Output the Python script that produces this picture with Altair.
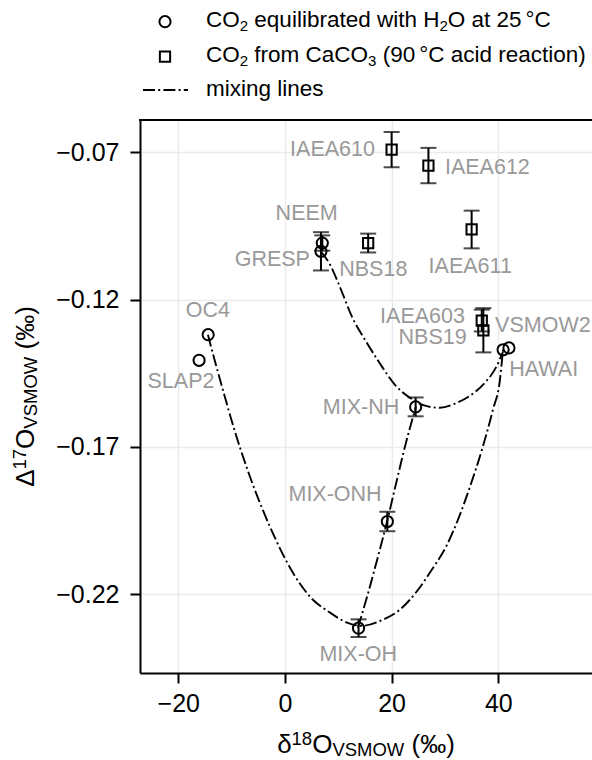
import altair as alt
import pandas as pd

# ---------------- data ----------------
circ_names = ["OC4", "SLAP2", "NEEM", "GRESP", "MIX-NH", "MIX-ONH", "MIX-OH", "HAWAI", "VSMOW2"]
circ_d18 = [-14.4, -16.1, 7.0, 6.75, 24.5, 19.2, 13.8, 40.9, 42.0]
circ_D17 = [-0.1319, -0.1406, -0.1008, -0.1036, -0.1564, -0.1953, -0.2315, -0.1370, -0.1364]
circ_err = [0.0, 0.0, 0.0026, 0.0065, 0.0032, 0.0033, 0.0030, 0.0, 0.0]

sq_names = ["IAEA610", "IAEA612", "IAEA611", "NBS18", "IAEA603", "NBS19"]
sq_d18 = [20.0, 26.9, 35.0, 15.6, 36.9, 37.2]
sq_D17 = [-0.0691, -0.0745, -0.0962, -0.1008, -0.1271, -0.1304]
sq_err = [0.0060, 0.0060, 0.0064, 0.0032, 0.0037, 0.0075]

# mixing lines
mix1_x = [-14.44, -14.06, -11.81, -9.38, -6.56, -2.81, 1.50, 4.69, 8.44, 11.63, 14.44,
          18.38, 21.56, 24.38, 27.56, 30.38, 32.44, 34.69, 36.94, 39.00, 40.31, 40.88]
mix1_y = [-0.1319, -0.1346, -0.1495, -0.1648, -0.1801, -0.1971, -0.2127, -0.2208, -0.2262,
          -0.2296, -0.2307, -0.2286, -0.2252, -0.2198, -0.2116, -0.2032, -0.1947, -0.1835,
          -0.1709, -0.1573, -0.1472, -0.1370]
mix2_x = [6.75, 8.44, 10.50, 12.56, 15.00, 17.81, 20.63, 23.44, 26.25, 29.06, 31.88,
          34.69, 37.50, 39.75, 40.88]
mix2_y = [-0.1037, -0.1081, -0.1166, -0.1258, -0.1336, -0.1417, -0.1489, -0.1533, -0.1560,
          -0.1567, -0.1553, -0.1526, -0.1482, -0.1424, -0.1377]
mix3_x = [13.69, 15.56, 17.44, 19.13, 21.0, 22.5, 24.56]
mix3_y = [-0.2313, -0.2198, -0.2072, -0.1954, -0.1811, -0.1699, -0.1563]

lab_names = ["IAEA610", "IAEA612", "NEEM", "GRESP", "NBS18", "IAEA611", "OC4", "SLAP2",
             "IAEA603", "NBS19", "VSMOW2", "HAWAI", "MIX-NH", "MIX-ONH", "MIX-OH"]
lab_x = [16.88, 30.0, 4.07, 4.69, 16.56, 34.74, -14.44, -19.5, 33.75, 34.07, 39.4, 42.06,
         21.43, 18.13, 13.74]
lab_y = [-0.0691, -0.0752, -0.0909, -0.1067, -0.1098, -0.1090, -0.1240, -0.1481, -0.1259,
         -0.1330, -0.1291, -0.1440, -0.1568, -0.1862, -0.2405]
lab_align = ["right", "left", "center", "right", "center", "center", "center", "center",
             "right", "right", "left", "left", "right", "right", "center"]

x_ticks = [-20, 0, 20, 40]
y_ticks = [-0.07, -0.12, -0.17, -0.22]

# ---------------- layout / style ----------------
W, H = 452, 553
PAD_L, PAD_T = 140, 120
FONT = "Liberation Sans, Arial, Helvetica, sans-serif"
GRAY = "#999999"
DASH = [12, 3.2, 2, 3.2]
LW = 1.9

AW = {' ': 278, '(': 333, ')': 333, '‰': 1000, 'δ': 556, 'Δ': 668, 'O': 778, 'V': 667,
      'S': 667, 'M': 833, 'W': 944, 'C': 722, 'H': 722, 'A': 667, '°': 400, '.': 278,
      'a': 556, 'b': 556, 'c': 500, 'd': 556, 'e': 556, 'f': 278, 'g': 556, 'h': 556,
      'i': 222, 'l': 222, 'm': 833, 'n': 556, 'o': 556, 'p': 556, 'q': 556, 'r': 333,
      's': 500, 't': 278, 'u': 556, 'w': 722, 'x': 500}
for d in "0123456789":
    AW[d] = 556


def tw(text, size):
    return sum(AW.get(c, 556) for c in text) * size / 1000.0


def rich(segments, x0, y0, angle=0, center=False):
    """segments: list of (text, size, shift, extra_gap)."""
    total = 0.0
    for text, size, shift, gap in segments:
        total += gap + tw(text, size)
    start = -total / 2 if center else 0.0
    pos = start
    layers = []
    for text, size, shift, gap in segments:
        pos += gap
        lead = len(text) - len(text.lstrip(' '))
        pos += tw(' ' * lead, size)
        body = text.strip(' ')
        if angle == 0:
            px, py = x0 + pos, y0 + shift
        else:
            px, py = x0 + shift, y0 - pos
        layers.append(
            alt.Chart(pd.DataFrame({"t": [body]}))
            .mark_text(align="left", baseline="alphabetic", fontSize=size, font=FONT,
                       angle=angle, color="black")
            .encode(x=alt.value(px), y=alt.value(py), text="t:N")
        )
        pos += tw(body, size) + tw(' ' * (len(text) - lead - len(body)), size)
    return layers


xs = alt.Scale(domain=[-27.18, 57.57], nice=False, zero=False)
ys = alt.Scale(domain=[-0.24671, -0.05904], nice=False, zero=False)

axis_common = dict(title=None, grid=True, gridColor="#ebebeb", gridWidth=1.5,
                   domain=True, domainColor="black", domainWidth=2,
                   ticks=True, tickSize=10, tickWidth=2, tickColor="black",
                   labelFont=FONT, labelFontSize=25, labelColor="black")
xaxis = alt.Axis(values=x_ticks, format="d", labelPadding=8, **axis_common)
yaxis = alt.Axis(values=y_ticks, format=".2f", labelPadding=11, **axis_common)


def X(f):
    return alt.X(f, type="quantitative", scale=xs, axis=xaxis)


def Y(f):
    return alt.Y(f, type="quantitative", scale=ys, axis=yaxis)


# ---------------- tables ----------------
mix_rows = []
for cid, (xx, yy) in enumerate([(mix1_x, mix1_y), (mix2_x, mix2_y), (mix3_x, mix3_y)]):
    for i, (a, b) in enumerate(zip(xx, yy)):
        mix_rows.append({"curve": cid, "i": i, "x": a, "y": b})
mix_df = pd.DataFrame(mix_rows)

circ_df = pd.DataFrame({"name": circ_names, "x": circ_d18, "y": circ_D17, "e": circ_err})
sq_df = pd.DataFrame({"name": sq_names, "x": sq_d18, "y": sq_D17, "e": sq_err})
err_df = pd.concat([circ_df, sq_df], ignore_index=True)
err_df = err_df[err_df["e"] > 0].copy()
err_df["lo"] = err_df["y"] - err_df["e"]
err_df["hi"] = err_df["y"] + err_df["e"]
lab_df = pd.DataFrame({"name": lab_names, "x": lab_x, "y": lab_y, "align": lab_align})

# ---------------- layers ----------------
lines = alt.Chart(mix_df).mark_line(
    color="black", strokeWidth=LW, strokeDash=DASH, interpolate="monotone"
).encode(x=X("x"), y=Y("y"), detail="curve:N", order="i:Q")

bars = alt.Chart(err_df).mark_rule(color="black", strokeWidth=2).encode(
    x=X("x"), y=Y("lo"), y2="hi:Q")
cap_lo = alt.Chart(err_df).mark_tick(orient="horizontal", color="black", size=16,
                                     thickness=2).encode(x=X("x"), y=Y("lo"))
cap_hi = alt.Chart(err_df).mark_tick(orient="horizontal", color="black", size=16,
                                     thickness=2).encode(x=X("x"), y=Y("hi"))

CSZ, SSZ, MSW = 125, 105, 2
circles = alt.Chart(circ_df).mark_point(shape="circle", filled=False, color="black",
                                        strokeWidth=MSW, size=CSZ, opacity=1).encode(x=X("x"), y=Y("y"))
squares = alt.Chart(sq_df).mark_point(shape="square", filled=False, color="black",
                                      strokeWidth=MSW, size=SSZ, opacity=1).encode(x=X("x"), y=Y("y"))

label_layers = []
for al in ["left", "center", "right"]:
    label_layers.append(
        alt.Chart(lab_df[lab_df["align"] == al]).mark_text(
            align=al, baseline="middle", font=FONT, fontSize=21.5, color=GRAY
        ).encode(x=X("x"), y=Y("y"), text="name:N")
    )

top_border = alt.Chart(pd.DataFrame({"a": [0]})).mark_rule(color="black", strokeWidth=2).encode(
    x=alt.value(-1), x2=alt.value(W + 2), y=alt.value(0))

# legend (drawn in the padding above the plot)
leg_circle = alt.Chart(pd.DataFrame({"a": [0]})).mark_point(
    shape="circle", filled=False, color="black", strokeWidth=MSW, size=CSZ, opacity=1
).encode(x=alt.value(165 - PAD_L), y=alt.value(21.7 - PAD_T))
leg_square = alt.Chart(pd.DataFrame({"a": [0]})).mark_point(
    shape="square", filled=False, color="black", strokeWidth=MSW, size=SSZ, opacity=1
).encode(x=alt.value(165 - PAD_L), y=alt.value(56.7 - PAD_T))
leg_line = alt.Chart(pd.DataFrame({"a": [0]})).mark_rule(
    color="black", strokeWidth=LW, strokeDash=DASH
).encode(x=alt.value(143 - PAD_L), x2=alt.value(188 - PAD_L), y=alt.value(90 - PAD_T))

LF, LS, LD = 22.5, 15, 4.5
lx0 = 206 - PAD_L
leg_text = []
leg_text += rich([("CO", LF, 0, 0), ("2", LS, LD, 0), (" equilibrated with H", LF, 0, 0),
                  ("2", LS, LD, 0), ("O at 25", LF, 0, 0), ("°C", LF, 0, 4)],
                 lx0, 26.7 - PAD_T)
leg_text += rich([("CO", LF, 0, 0), ("2", LS, LD, 0), (" from CaCO", LF, 0, 0),
                  ("3", LS, LD, 0), (" (90", LF, 0, 0), ("°C acid reaction)", LF, 0, 4)],
                 lx0, 61.7 - PAD_T)
leg_text += rich([("mixing lines", LF, 0, 0)], lx0, 95.5 - PAD_T)

# axis titles with super/subscripts
TF, TS = 26, 18.5
x_title = rich([("δ", TF, 0, 0), ("18", TS, -8.3, 0), ("O", TF, 0, 0), ("VSMOW", TS, 3, 0),
                (" (‰)", TF, 0, 0)], W / 2, 753 - PAD_T, angle=0, center=True)
y_title = rich([("Δ", TF, 0, 0), ("17", TS, -8.3, 0), ("O", TF, 0, 0), ("VSMOW", TS, 3, 0),
                (" (‰)", TF, 0, 0)], 34 - PAD_L, H / 2, angle=270, center=True)

chart = alt.layer(
    lines, bars, cap_lo, cap_hi, circles, squares, *label_layers, top_border,
    leg_circle, leg_square, leg_line, *leg_text, *x_title, *y_title
).properties(
    width=W, height=H,
    autosize=alt.AutoSizeParams(type="none"),
    padding={"left": PAD_L, "top": PAD_T, "right": 0, "bottom": 760 - PAD_T - H},
    background="white",
).configure_view(stroke=None)

chart.save("out.html", embed_options={"renderer": "svg", "actions": False})
